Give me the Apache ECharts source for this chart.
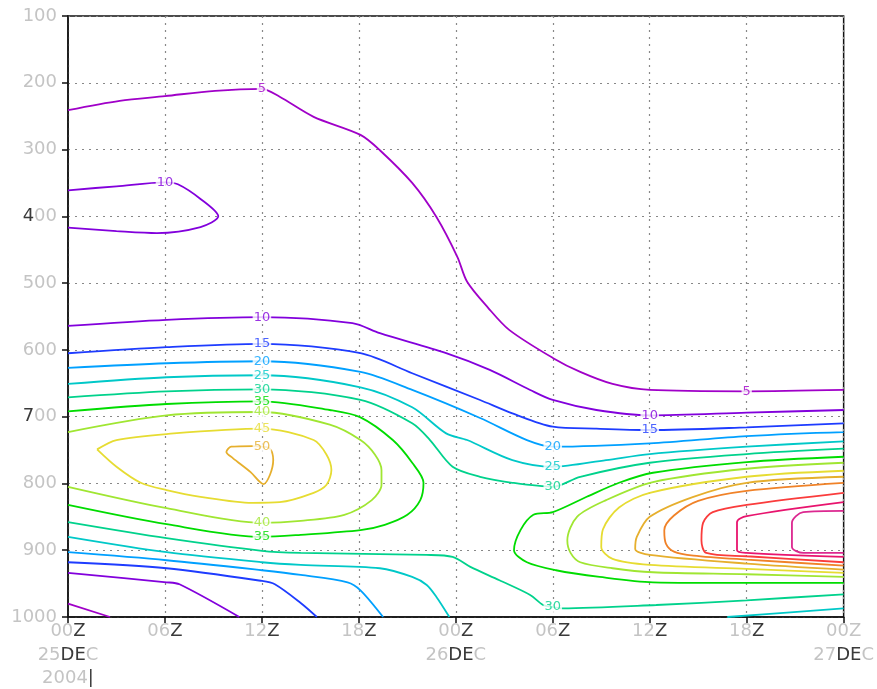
<!DOCTYPE html>
<html><head><meta charset="utf-8">
<script src="https://cdn.jsdelivr.net/npm/echarts@6/dist/echarts.min.js"></script>
<style>html,body{margin:0;padding:0;background:#fff}#c{width:877px;height:689px}</style>
</head><body><div id="c"></div>
<script>
// Axis ticks (hours since 00Z 25DEC2004; pressure hPa)
const xTicks = [0, 6, 12, 18, 24, 30, 36, 42, 48];
const xTickLabels = ['{g|00}{d|Z}\n{g|25}{d|DE}{g|C}\n{g|2004}{d||}', '{g|06}{d|Z}', '{g|12}{d|Z}', '{g|18}{d|Z}',
  '{g|00}{d|Z}\n{g|26}{d|DE}{g|C}', '{g|06}{d|Z}', '{g|12}{d|Z}', '{g|18}{d|Z}', '{g|00Z}\n{g|27}{d|DE}{g|C}'];
const yTicks = [100, 200, 300, 400, 500, 600, 700, 800, 900, 1000];
const yTickLabels = ['{g|100}', '{g|200}', '{g|300}', '{d|4}{g|00}', '{g|500}', '{g|600}', '{d|7}{g|00}', '{g|800}', '{g|900}', '{g|1000}'];

// Contour levels and colours
const levels = [5, 10, 15, 20, 25, 30, 35, 40, 45, 50, 55, 60, 65, 70];
const levelColors = ['#a000c8', '#8200dc', '#1e3cff', '#00a0ff', '#00c8c8', '#00d28c', '#00dc00',
  '#a0e632', '#e6dc32', '#e6af2d', '#f08228', '#fa3c3c', '#e8146e', '#dc2890'];

// Contour lines: [hour, pressure]
const c5a = [[0,241],[3.2,227],[6,220],[9.1,212],[12,209],[13.1,221],[15.2,251],[18.1,278],[19.3,301],[21.3,350],[22.8,401],[24.1,461],[24.7,498],[26,537],[27.3,570],[30,612],[31.7,633],[33.7,651],[36,660],[42,662],[48,660]];
const c5b = [[0,980],[2.6,1000]];
const c10a = [[0,361],[3,355],[6,349],[6.8,352],[8.2,374],[9.3,400],[8.2,416],[5.5,425],[3,422],[0,417]];
const c10b = [[0,564],[6.1,555],[12,551],[17.6,560],[19.3,575],[23.4,605],[26.1,630],[28.6,660],[30,675],[32.7,690],[36,698],[42,694],[48,690]];
const c10c = [[0,934],[6.1,948],[6.9,951],[10.6,1000]];
const c15a = [[0,605],[6.1,596],[12,591],[18.1,605],[21.3,635],[25.5,675],[27.5,695],[30,715],[32.7,718],[36,720],[42,716],[48,710]];
const c15b = [[0,918],[6.1,927],[12,946],[12.8,951],[14.4,979],[15.4,1000]];
const c20a = [[0,627],[6.1,620],[12,617],[18.1,633],[21.3,660],[25.5,702],[28.4,735],[30,745],[36,740],[42,729],[48,723]];
const c20b = [[0,903],[6.1,915],[12,930],[14.4,937],[17.3,948],[18.1,960],[19.5,1000]];
const c25a = [[0,651],[6.1,641],[12,638],[18.1,656],[21.3,686],[23.4,725],[24.7,735],[27.5,765],[30,775],[33.3,765],[36,756],[42,745],[48,737]];
const c25b = [[0,880],[6.1,903],[12,918],[14.4,922],[19.3,927],[21.3,940],[22.2,952],[22.8,970],[23.6,1000]];
const c25c = [[40.8,1000],[44.7,993],[48,987]];
const c30a = [[0,671],[6.1,662],[12,659],[18.1,675],[21.3,710],[22.4,735],[23.8,775],[25.5,790],[27.5,799],[30,805],[31.7,790],[36,769],[42,756],[48,748]];
const c30b = [[0,858],[6.1,882],[12,901],[14.4,904],[22.2,907],[23.8,910],[24.9,925],[26.7,945],[28.6,967],[29.4,982],[30,985],[30.6,987],[36.4,982],[42,975],[48,966]];
const c35a = [[0,692],[6.1,681],[12,677],[16.2,690],[18.1,701],[20.1,735],[21.3,769],[22,799],[21.8,825],[21,847],[19.6,862],[18.1,870],[14.4,877],[12,880],[6.1,861],[0,832]];
const c35b = [[48,760],[42,768],[36.2,784],[34.1,799],[32.1,820],[30,843],[28.8,847],[28,870],[27.6,900],[28.4,918],[30.2,930],[32.9,940],[36.2,948],[42,949],[48,949]];
const c40a = [[0,723],[6.1,698],[12,693],[16.2,712],[18.1,735],[19,757],[19.4,780],[19.4,802],[18.8,825],[17.1,847],[14.4,856],[12,859],[6.1,837],[0,805]];
const c40b = [[48,769],[42,778],[36.2,798],[33.3,825],[31.5,850],[30.9,885],[31.1,904],[31.7,918],[33.7,927],[36.2,933],[42,936],[48,940]];
const c45a = [[1.8,749],[3,735],[6.1,726],[12,718],[15.2,735],[16,757],[16.3,780],[16,802],[15.2,814],[13.1,828],[11.4,829],[8.2,820],[6.1,810],[4.5,799],[3,775],[1.8,749]];
const c45b = [[48,781],[42,790],[36,814],[34.1,836],[33.1,869],[33,895],[33.7,913],[36,922],[42,928],[48,934]];
const c50a = [[12,745],[12.5,748],[12.7,765],[12.5,787],[12.1,801],[11.3,783],[10.2,762],[9.8,753],[10.1,745],[11.4,744],[12,745]];
const c50b = [[48,790],[42,799],[38.7,820],[36,850],[35.2,880],[35.1,898],[36,907],[42,920],[48,929]];
const c55a = [[48,799],[42,811],[39,826],[37.5,848],[36.9,870],[37,890],[37.5,902],[38.7,908],[42,914],[48,923]];
const c60a = [[48,814],[42,832],[39.9,843],[39.3,859],[39.2,885],[39.5,904],[42,909],[48,918]];
const c65a = [[48,828],[42,849],[41.4,858],[41.4,900],[42,904],[48,910]];
const c70a = [[48,841],[45.5,843],[44.8,859],[44.8,895],[45.5,904],[48,904]];

// Contour labels: [level, hour, pressure]
const contourLabels = [[5,12,209],[5,42,662],[10,6,349],[10,12,551],[10,36,698],[15,12,591],[15,36,720],
  [20,12,617],[20,30,745],[25,12,638],[25,30,775],[30,12,659],[30,30,805],[30,30,985],
  [35,12,677],[35,12,880],[40,12,693],[40,12,859],[45,12,718],[50,12,745]];

const contours = [[5,c5a],[5,c5b],[10,c10a],[10,c10b],[10,c10c],[15,c15a],[15,c15b],[20,c20a],[20,c20b],
  [25,c25a],[25,c25b],[25,c25c],[30,c30a],[30,c30b],[35,c35a],[35,c35b],[40,c40a],[40,c40b],
  [45,c45a],[45,c45b],[50,c50a],[50,c50b],[55,c55a],[60,c60a],[65,c65a],[70,c70a]];

const colorOf = lev => levelColors[levels.indexOf(lev)];
const FONT = 'DejaVu Sans';
const richStyles = {
  g: {color: '#c4c4c4', fontSize: 18, fontFamily: FONT, lineHeight: 23.5},
  d: {color: '#3a3a3a', fontSize: 18, fontFamily: FONT, lineHeight: 23.5}
};

const series = contours.map(([lev, pts]) => ({
  type: 'line', data: pts, showSymbol: false, smooth: 0.3, silent: true, z: 3,
  lineStyle: {color: colorOf(lev), width: 1.8}
}));
series.push({
  type: 'scatter', silent: true, z: 5, symbolSize: 1,
  itemStyle: {color: 'rgba(0,0,0,0)'},
  data: contourLabels.map(([lev, h, p]) => ({value: [h, p, lev], label: {color: colorOf(lev)}})),
  label: {show: true, position: 'inside', formatter: q => String(q.value[2]), fontSize: 13,
    fontFamily: FONT, backgroundColor: '#fff', padding: [0, 1]}
});

const chart = echarts.init(document.getElementById('c'), null, {renderer: 'canvas'});
chart.setOption({
  animation: false,
  backgroundColor: '#fff',
  grid: {left: 68, right: 33, top: 16, bottom: 72, show: true, borderColor: '#111', borderWidth: 1.5},
  xAxis: {
    type: 'value', min: 0, max: 48, interval: 6,
    axisLine: {show: true, lineStyle: {color: '#111', width: 1.5}},
    axisTick: {show: true, length: 6, lineStyle: {color: '#111', width: 1.5}},
    splitLine: {show: true, lineStyle: {color: '#888', type: [2, 5], width: 1.2}},
    axisLabel: {margin: 3, formatter: v => xTickLabels[xTicks.indexOf(v)], rich: richStyles, showMinLabel: true, showMaxLabel: true}
  },
  yAxis: {
    type: 'value', inverse: true, min: 100, max: 1000, interval: 100,
    axisLine: {show: true, lineStyle: {color: '#111', width: 1.5}},
    axisTick: {show: true, length: 6, lineStyle: {color: '#111', width: 1.5}},
    splitLine: {show: true, lineStyle: {color: '#888', type: [2, 5], width: 1.2}},
    axisLabel: {margin: 11, formatter: v => yTickLabels[yTicks.indexOf(v)], rich: richStyles}
  },
  series: series
});
</script></body></html>
